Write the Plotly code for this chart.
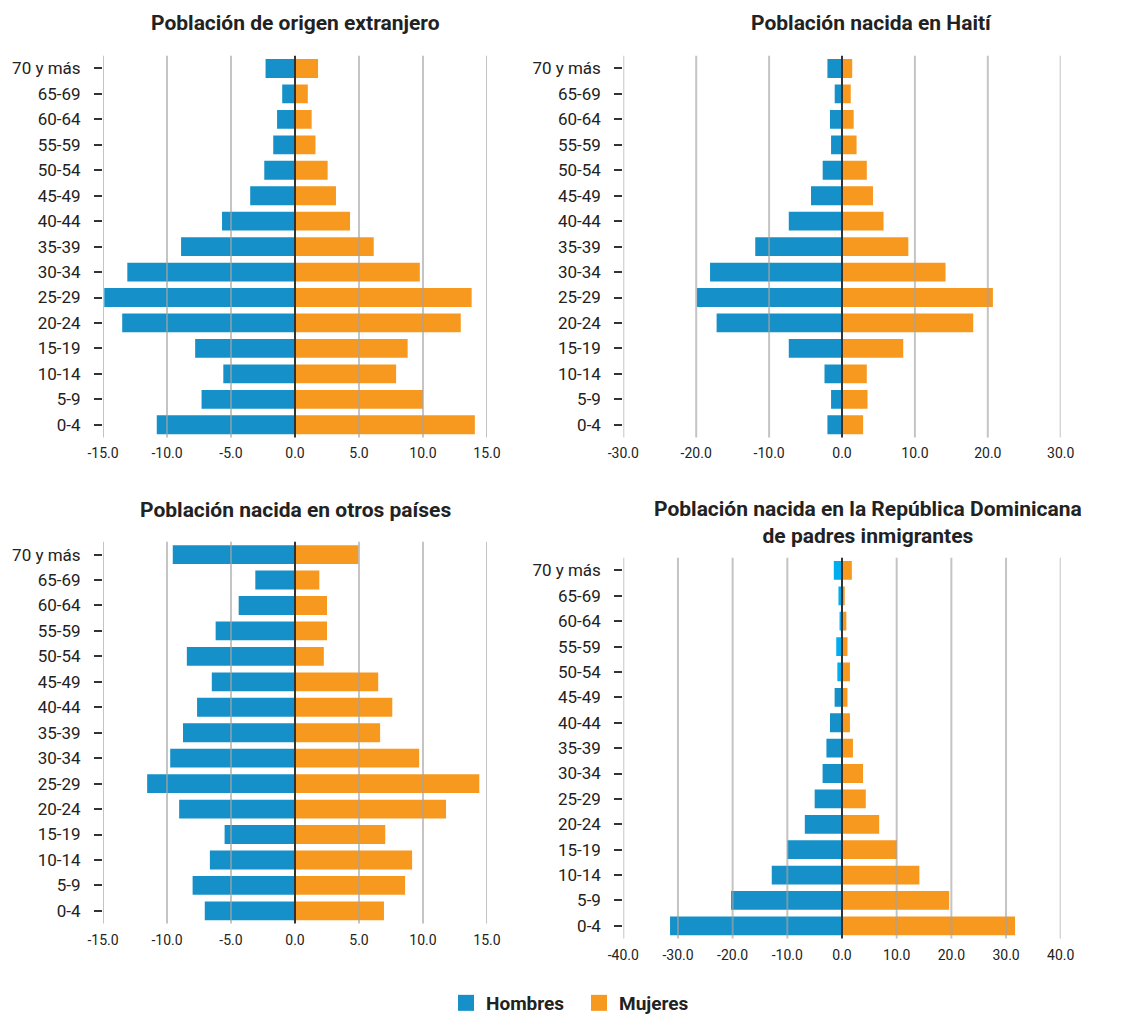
import plotly.graph_objects as go

W, H = 1134, 1014
OFF = 8  # page body margin in the rendered html

def px(x):
    return (x - OFF) / W

def py(y):
    # small vertical correction measured against the rendered page
    return 1 - (y - OFF + 1 + 0.004 * y) / H

grupos = ["0-4", "5-9", "10-14", "15-19", "20-24", "25-29", "30-34", "35-39",
          "40-44", "45-49", "50-54", "55-59", "60-64", "65-69", "70 y más"]

# values listed from 0-4 up to 70 y más (percent)
ext_h = [10.8, 7.3, 5.6, 7.8, 13.5, 14.9, 13.1, 8.9, 5.7, 3.5, 2.4, 1.7, 1.4, 1.0, 2.3]
ext_m = [14.05, 10.0, 7.9, 8.8, 12.95, 13.8, 9.75, 6.15, 4.3, 3.2, 2.55, 1.6, 1.3, 1.0, 1.8]

hai_h = [2.0, 1.5, 2.4, 7.3, 17.2, 19.9, 18.1, 11.9, 7.3, 4.25, 2.65, 1.5, 1.65, 1.0, 2.0]
hai_m = [2.9, 3.5, 3.4, 8.4, 18.0, 20.7, 14.2, 9.1, 5.7, 4.25, 3.4, 2.0, 1.6, 1.2, 1.4]

otr_h = [7.05, 8.0, 6.65, 5.5, 9.05, 11.55, 9.75, 8.75, 7.65, 6.5, 8.45, 6.2, 4.4, 3.1, 9.55]
otr_m = [6.95, 8.6, 9.15, 7.05, 11.8, 14.4, 9.7, 6.65, 7.6, 6.5, 2.25, 2.5, 2.5, 1.9, 4.95]

rd_h = [31.45, 20.3, 12.85, 10.0, 6.8, 5.0, 3.55, 2.85, 2.2, 1.35, 0.85, 1.05, 0.45, 0.65, 1.5]
rd_m = [31.65, 19.6, 14.15, 10.05, 6.8, 4.35, 3.85, 2.0, 1.45, 1.0, 1.45, 1.0, 0.8, 0.5, 1.8]

titulos = ["Población de origen extranjero",
           "Población nacida en Haití",
           "Población nacida en otros países",
           "Población nacida en la República Dominicana<br>de padres inmigrantes"]

ticks15 = [-15, -10, -5, 0, 5, 10, 15]
ticks30 = [-30, -20, -10, 0, 10, 20, 30]
ticks40 = [-40, -30, -20, -10, 0, 10, 20, 30, 40]

AZUL = "#1590C8"
AZUL_CLARO = "#00AEEF"
NARANJA = "#F7981F"

FONT = "Roboto"

# pixel boxes (left, right, top, bottom) in page coordinates
boxes = [(103, 487, 55, 439), (623.3, 1060.7, 55, 439),
         (103, 487, 544, 928), (623.3, 1060.7, 560, 943)]

panels = [(ext_h, ext_m, ticks15, [AZUL] * 15),
          (hai_h, hai_m, ticks30, [AZUL] * 15),
          (otr_h, otr_m, ticks15, [AZUL] * 15),
          (rd_h, rd_m, ticks40, [AZUL] * 10 + [AZUL_CLARO] * 5)]

fig = go.Figure()
shapes = []
annotations = []

for i, ((hv, mv, tv, hcol), (l, r, t, b)) in enumerate(zip(panels, boxes)):
    n = "" if i == 0 else str(i + 1)
    xa, ya = "x" + n, "y" + n
    fig.add_trace(go.Bar(y=grupos, x=[-v for v in hv], orientation="h",
                         marker=dict(color=hcol, line=dict(width=0)),
                         name="Hombres", showlegend=False,
                         xaxis=xa, yaxis=ya, hoverinfo="skip"))
    fig.add_trace(go.Bar(y=grupos, x=mv, orientation="h",
                         marker=dict(color=NARANJA, line=dict(width=0)),
                         name="Mujeres", showlegend=False,
                         xaxis=xa, yaxis=ya, hoverinfo="skip"))
    xkey = "xaxis" + n
    ykey = "yaxis" + n
    fig.layout[xkey] = dict(domain=[px(l), px(r)], range=[tv[0], tv[-1]],
                            anchor=ya, tickvals=tv, automargin=False,
                            ticktext=[f"{v:.1f}" for v in tv],
                            showgrid=False, zeroline=False, showline=False,
                            ticks="", ticklabelstandoff=6,
                            tickfont=dict(family=FONT, size=14, color="#222"),
                            fixedrange=True)
    fig.layout[ykey] = dict(domain=[py(b), py(t)], range=[-0.5, 14.5],
                            anchor=xa, type="category", automargin=False,
                            categoryorder="array", categoryarray=grupos,
                            showgrid=False, zeroline=False, showline=False,
                            ticks="outside", ticklen=8, tickwidth=1.5,
                            tickcolor="#333", ticklabelstandoff=10,
                            tickfont=dict(family=FONT, size=17, color="#222"),
                            fixedrange=True)
    for v in tv:
        if v == 0:
            continue
        shapes.append(dict(type="line", xref=xa, yref=ya + " domain",
                           x0=v, x1=v, y0=0, y1=1, layer="above",
                           line=dict(color="rgba(165,165,165,0.65)", width=2)))
    shapes.append(dict(type="line", xref=xa, yref=ya + " domain",
                       x0=0, x1=0, y0=0, y1=1, layer="above",
                       line=dict(color="#333333", width=2)))

# legend entries (square markers)
for nombre, col in [("Hombres", AZUL), ("Mujeres", NARANJA)]:
    fig.add_trace(go.Scatter(x=[None], y=[None], mode="markers", name=nombre,
                             marker=dict(symbol="square", size=16, color=col),
                             xaxis="x", yaxis="y", showlegend=True))

title_pos = [(295, 22), (871, 22), (295, 512), (868, 525)]
for txt, (cx, cy) in zip(titulos, title_pos):
    annotations.append(dict(text=txt, xref="paper", yref="paper",
                            x=px(cx), y=py(cy), xanchor="center", yanchor="middle",
                            showarrow=False,
                            font=dict(family=FONT, size=21, color="#222", weight="bold")))

fig.update_layout(
    width=W, height=H,
    margin=dict(l=0, r=0, t=0, b=0),
    paper_bgcolor="white", plot_bgcolor="white",
    barmode="overlay", bargap=0.26,
    shapes=shapes, annotations=annotations,
    showlegend=True,
    legend=dict(orientation="h", x=px(446), y=py(1008), xanchor="left",
                yanchor="middle", font=dict(family=FONT, size=19, color="#222",
                                            weight="bold"),
                itemwidth=30, tracegroupgap=0, entrywidth=88,
                itemsizing="trace"),
)

fig.write_html("out.html")
